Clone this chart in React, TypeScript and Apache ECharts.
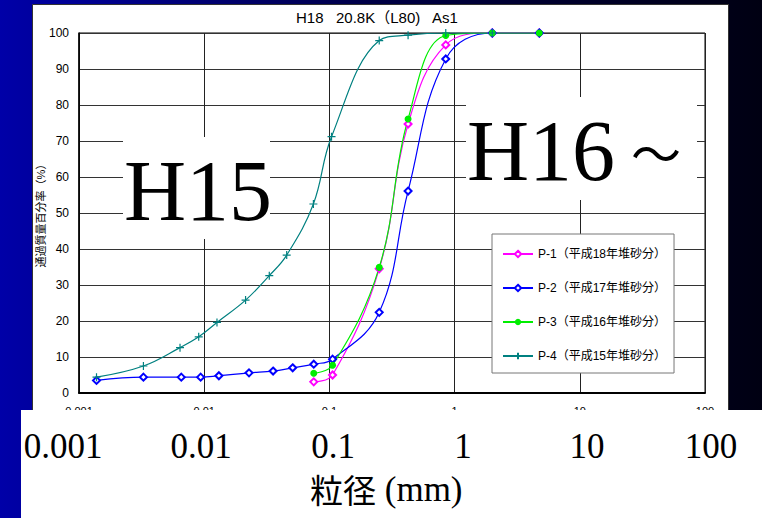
import React, { useEffect, useRef } from "react";
import * as echarts from "echarts";

// ---- data ----
const xTickLabels = ["0.001", "0.01", "0.1", "1", "10", "100"];
const seriesNames = [
  "P-1（平成18年堆砂分）",
  "P-2（平成17年堆砂分）",
  "P-3（平成16年堆砂分）",
  "P-4（平成15年堆砂分）",
];

const p1Size = [0.075, 0.106, 0.25, 0.425, 0.85, 2.0, 4.75];
const p1Pass = [3.1, 5.0, 34.5, 74.7, 96.7, 100, 100];

const p2Size = [0.00138, 0.00327, 0.00656, 0.00937, 0.0131, 0.0228, 0.0355, 0.0509, 0.075, 0.106, 0.25, 0.425, 0.85, 2.0, 4.75];
const p2Pass = [3.5, 4.4, 4.4, 4.4, 4.8, 5.6, 6.1, 7.0, 8.0, 9.4, 22.4, 56.1, 92.8, 100, 100];

const p3Size = [0.075, 0.106, 0.25, 0.425, 0.85, 2.0, 4.75];
const p3Pass = [5.5, 7.7, 34.9, 76.1, 99.3, 100, 100];

const p4Size = [0.00138, 0.00327, 0.00641, 0.00904, 0.01265, 0.0214, 0.0331, 0.0456, 0.0745, 0.104, 0.25, 0.425, 0.85, 2.0];
const p4Pass = [4.4, 7.5, 12.6, 15.6, 19.6, 25.8, 32.6, 38.3, 52.5, 71.2, 97.9, 99.4, 100, 100];

const SANS = "'Liberation Sans', Arial, 'Noto Sans CJK JP', sans-serif";
const SERIF = "'Liberation Serif', 'Times New Roman', 'Noto Sans CJK JP', serif";

const zip = (xs: number[], ys: number[]) => xs.map((x, i) => [x, ys[i]]);

export default function App() {
  const ref = useRef<HTMLDivElement>(null);
  useEffect(() => {
    const chart = echarts.init(ref.current!, null, { renderer: "svg" });
    const bigLabelX = [63, 201, 333, 463, 587, 711];
    chart.setOption({
      animation: false,
      backgroundColor: new echarts.graphic.LinearGradient(0, 0, 1, 0, [
        { offset: 0, color: "#0000a8" },
        { offset: 0.5, color: "#000044" },
        { offset: 1, color: "#000012" },
      ]),
      grid: {
        left: 79,
        right: 57,
        top: 33,
        bottom: 125,
        show: true,
        borderColor: "#000",
        borderWidth: 1,
        backgroundColor: "transparent",
      },
      xAxis: {
        type: "log",
        logBase: 10,
        min: 0.001,
        max: 100,
        axisLine: { show: true, lineStyle: { color: "#000", width: 2 } },
        axisTick: { show: false },
        splitLine: { show: true, lineStyle: { color: "#222", width: 1 } },
        minorSplitLine: { show: false },
        axisLabel: {
          margin: 12,
          fontSize: 11,
          color: "#000",
          fontFamily: SANS,
          formatter: (v: number) => xTickLabels[Math.round(Math.log10(v)) + 3],
        },
      },
      yAxis: {
        type: "value",
        min: 0,
        max: 100,
        interval: 10,
        name: "通過質量百分率（%）",
        nameLocation: "middle",
        nameRotate: 90,
        nameGap: 33,
        nameMoveOverlap: false,
        nameTextStyle: { fontSize: 11, color: "#000", fontFamily: SANS },
        axisLine: { show: true, lineStyle: { color: "#000", width: 1.5 } },
        axisTick: { show: false },
        splitLine: { show: true, lineStyle: { color: "#333", width: 1 } },
        axisLabel: { margin: 10, fontSize: 12, color: "#000", fontFamily: SANS },
      },
      legend: {
        orient: "vertical",
        left: 492,
        top: 234,
        padding: [14, 8, 11, 10],
        itemGap: 22,
        itemWidth: 30,
        itemHeight: 8,
        backgroundColor: "#fff",
        borderColor: "#777",
        borderWidth: 1,
        borderRadius: 0,
        textStyle: { fontSize: 12, color: "#000", fontFamily: SANS },
        data: seriesNames,
      },
      series: [
        {
          name: seriesNames[0],
          type: "line",
          data: zip(p1Size, p1Pass),
          smooth: 0.4,
          symbol: "emptyDiamond",
          symbolSize: 7,
          color: "#ff00ff",
          lineStyle: { color: "#ff00ff", width: 1.2 },
          itemStyle: { color: "#ff00ff", borderColor: "#ff00ff", borderWidth: 1 },
        },
        {
          name: seriesNames[1],
          type: "line",
          data: zip(p2Size, p2Pass),
          smooth: 0.4,
          symbol: "emptyDiamond",
          symbolSize: 7,
          color: "#0000ff",
          lineStyle: { color: "#0000ff", width: 1.2 },
          itemStyle: { color: "#0000ff", borderColor: "#0000ff", borderWidth: 1 },
        },
        {
          name: seriesNames[2],
          type: "line",
          data: zip(p3Size, p3Pass),
          smooth: 0.4,
          symbol: "circle",
          symbolSize: 7,
          color: "#00ee00",
          lineStyle: { color: "#00ee00", width: 1.2 },
          itemStyle: { color: "#00ee00", borderColor: "#00ee00", borderWidth: 0 },
        },
        {
          name: seriesNames[3],
          type: "line",
          data: zip(p4Size, p4Pass),
          smooth: 0.4,
          symbol: "path://M5,0V10M0,5H10",
          symbolSize: 8,
          color: "#008080",
          lineStyle: { color: "#008080", width: 1.2 },
          itemStyle: { color: "#008080", borderColor: "#008080", borderWidth: 1.2 },
        },
      ],
      graphic: [
        {
          type: "rect",
          z: -1,
          shape: { x: 32.5, y: 4.5, width: 696, height: 406 },
          style: { fill: "#fff", stroke: "#333", lineWidth: 1 },
        },
        {
          type: "text",
          z: 10,
          x: 296,
          y: 17,
          style: {
            text: "H18   20.8K（L80)   As1",
            fontSize: 15,
            fontFamily: SANS,
            fill: "#000",
            verticalAlign: "middle",
          },
        },
        {
          type: "rect",
          z: 50,
          shape: { x: 123, y: 137, width: 147, height: 102 },
          style: { fill: "#fff" },
        },
        {
          type: "text",
          z: 51,
          x: 124,
          y: 191,
          style: { text: "H15", fontSize: 86, fontFamily: SERIF, fill: "#000", verticalAlign: "middle" },
        },
        {
          type: "rect",
          z: 50,
          shape: { x: 466, y: 97, width: 231, height: 103 },
          style: { fill: "#fff" },
        },
        {
          type: "text",
          z: 51,
          x: 467,
          y: 151,
          style: {
            text: "{a|H16}{b|～}",
            verticalAlign: "middle",
            rich: {
              a: { fontSize: 86, fontFamily: SERIF, color: "#000" },
              b: {
                fontSize: 50,
                fontFamily: "'Noto Sans CJK JP', sans-serif",
                color: "#000",
                padding: [0, 0, 0, 16],
              },
            },
          },
        },
        {
          type: "rect",
          z: 50,
          shape: { x: 21, y: 410, width: 741, height: 108 },
          style: { fill: "#fff" },
        },
        ...xTickLabels.map((t, i) => ({
          type: "text",
          z: 51,
          x: bigLabelX[i],
          y: 446,
          style: {
            text: t,
            fontSize: 35,
            fontFamily: SERIF,
            fill: "#000",
            align: "center",
            verticalAlign: "middle",
          },
        })),
        {
          type: "text",
          z: 51,
          x: 310,
          y: 489,
          style: {
            text: "{a|粒径}{b| (mm)}",
            verticalAlign: "middle",
            rich: {
              a: { fontSize: 33, fontFamily: "'Noto Sans CJK JP', sans-serif", color: "#000" },
              b: { fontSize: 35, fontFamily: SERIF, color: "#000" },
            },
          },
        },
      ],
    });
    return () => chart.dispose();
  }, []);
  return <div ref={ref} style={{ position: "fixed", left: 0, top: 0, width: 762, height: 518 }} />;
}
